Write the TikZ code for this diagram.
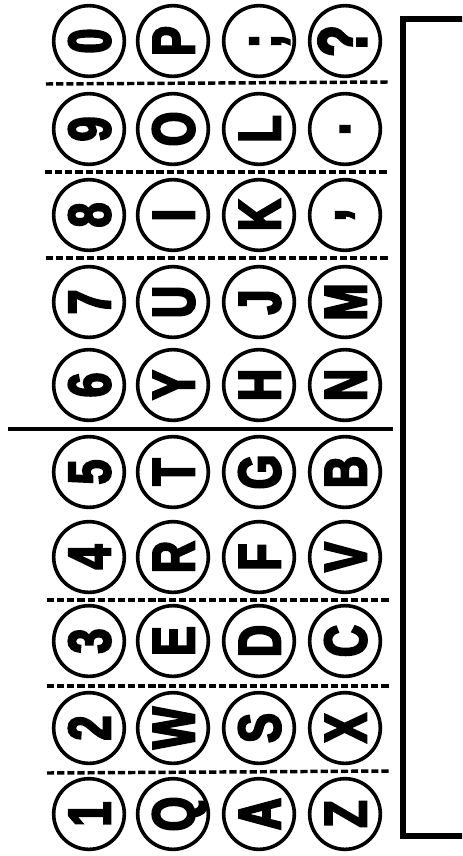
\documentclass[tikz,border=0pt]{standalone}
\usepackage{fontspec}
\newfontfamily\keyfont{Liberation Sans}[FakeStretch=0.74, BoldFeatures={FakeBold=3.5}]
\begin{document}
\begin{tikzpicture}[x=0.75pt,y=-0.75pt,
  keybase/.style={circle, draw, line width=2.7pt, minimum size=53pt, inner sep=0pt,
    rotate=90, font=\keyfont\bfseries\fontsize{45}{45}\selectfont},
  key/.style={keybase, text height=32pt, text depth=0pt},
  punct/.style={keybase},
  sep/.style={line width=2.6pt, dash pattern=on 5.4pt off 2.2pt},
  split/.style={line width=3.6pt},
  frame/.style={line width=3.8pt}]
\path[use as bounding box] (0,0) rectangle (462,856);
\clip (0,0) rectangle (462,856);
% row 1
\node[key] (k1a) at (89,41) {0};
\node[key] (k1b) at (173,41) {P};
\node[key] (k1c) at (259,41) {;};
\node[key] (k1d) at (345,41) {\scalebox{1.15}{?}};
% row 2
\node[key] (k2a) at (89,129) {9};
\node[key] (k2b) at (173,129) {O};
\node[key] (k2c) at (259,129) {L};
\node[punct] (k2d) at (345,129) {.};
% row 3
\node[key] (k3a) at (89,215) {8};
\node[key] (k3b) at (173,215) {I};
\node[key] (k3c) at (259,215) {K};
\node[punct] (k3d) at (345,215) {,};
% row 4
\node[key] (k4a) at (89,302) {7};
\node[key] (k4b) at (173,302) {U};
\node[key] (k4c) at (259,302) {J};
\node[key] (k4d) at (345,302) {M};
% row 5
\node[key] (k5a) at (89,385) {6};
\node[key] (k5b) at (173,385) {Y};
\node[key] (k5c) at (259,385) {H};
\node[key] (k5d) at (345,385) {N};
% row 6
\node[key] (k6a) at (89,472) {5};
\node[key] (k6b) at (173,472) {T};
\node[key] (k6c) at (259,472) {G};
\node[key] (k6d) at (345,472) {B};
% row 7
\node[key] (k7a) at (89,557) {4};
\node[key] (k7b) at (173,557) {R};
\node[key] (k7c) at (259,557) {F};
\node[key] (k7d) at (345,557) {V};
% row 8
\node[key] (k8a) at (89,641) {3};
\node[key] (k8b) at (173,641) {E};
\node[key] (k8c) at (259,641) {D};
\node[key] (k8d) at (345,641) {C};
% row 9
\node[key] (k9a) at (89,728) {2};
\node[key] (k9b) at (173,728) {W};
\node[key] (k9c) at (259,728) {S};
\node[key] (k9d) at (345,728) {X};
% row 10
\node[key] (k10a) at (89,814) {1};
\node[key] (k10b) at (173,814) {Q};
\node[key] (k10c) at (259,814) {A};
\node[key] (k10d) at (345,814) {Z};
% separators
\draw[sep] (46,84) -- (389,82);
\draw[sep] (45,172) -- (389,172);
\draw[sep] (46,258) -- (389,258);
\draw[sep] (47,600) -- (390,600);
\draw[sep] (47,686) -- (390,686);
\draw[sep] (47,773) -- (390,771);
\draw[split] (8,429) -- (393,429);
% frame on the right
\draw[frame] (403,19) rectangle (480,836);
\end{tikzpicture}
\end{document}
